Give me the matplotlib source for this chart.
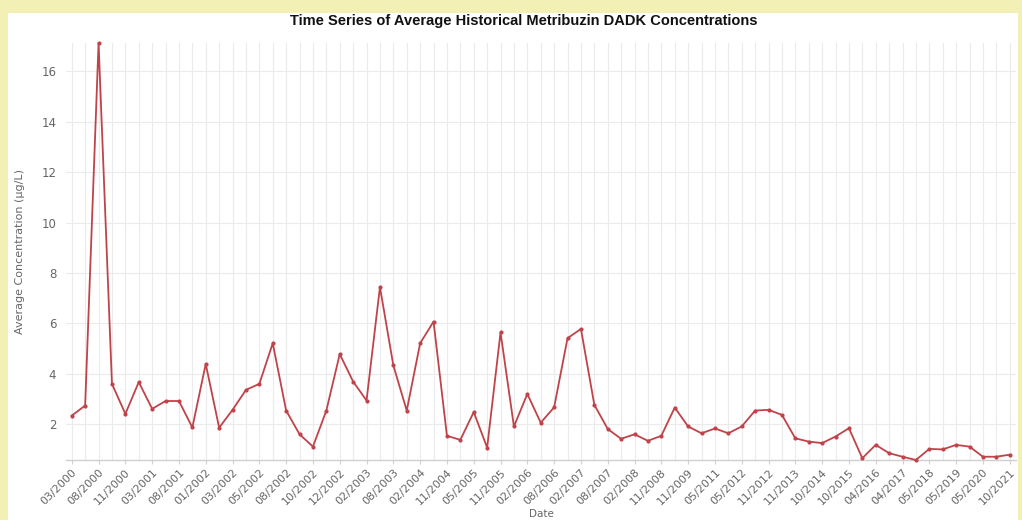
import matplotlib.pyplot as plt
import matplotlib.patches as mpatches

# ---------------------------------------------------------------------------
# Data (one point per sample date)
# ---------------------------------------------------------------------------
tick_labels = [
    '03/2000', '08/2000', '11/2000', '03/2001', '08/2001', '01/2002',
    '03/2002', '05/2002', '08/2002', '10/2002', '12/2002', '02/2003',
    '08/2003', '02/2004', '11/2004', '05/2005', '11/2005', '02/2006',
    '08/2006', '02/2007', '08/2007', '02/2008', '11/2008', '11/2009',
    '05/2011', '05/2012', '11/2012', '11/2013', '10/2014', '10/2015',
    '04/2016', '04/2017', '05/2018', '05/2019', '05/2020', '10/2021',
]

concentration = [
    2.34, 2.74, 17.12, 3.60, 2.41, 3.67, 2.61, 2.92, 2.92, 1.87,
    4.39, 1.86, 2.57, 3.36, 3.60, 5.21, 2.54, 1.60, 1.11, 2.54,
    4.78, 3.69, 2.94, 7.44, 4.33, 2.54, 5.21, 6.07, 1.54, 1.38,
    2.48, 1.07, 5.64, 1.91, 3.20, 2.06, 2.67, 5.41, 5.78, 2.77,
    1.81, 1.42, 1.60, 1.34, 1.54, 2.66, 1.91, 1.64, 1.83, 1.64,
    1.91, 2.54, 2.57, 2.37, 1.44, 1.31, 1.25, 1.51, 1.84, 0.65,
    1.18, 0.85, 0.71, 0.58, 1.02, 1.00, 1.18, 1.11, 0.71, 0.71,
    0.79,
]

LINE = '#c0434a'
GRID = '#ebebeb'
TXT = '#666666'

fig = plt.figure(figsize=(10.22, 5.2), dpi=100)
fig.patch.set_facecolor('#f3f0b6')
# white card behind the chart
fig.add_artist(mpatches.Rectangle((8 / 1022, 0), 1010 / 1022, 507 / 520,
                                  transform=fig.transFigure,
                                  facecolor='white', edgecolor='none',
                                  zorder=0))

ax = fig.add_axes([66 / 1022, 60 / 520, 950 / 1022, 417 / 520])
ax.set_facecolor('none')

x = list(range(len(concentration)))
ax.plot(x, concentration, color=LINE, lw=1.3, marker='o', ms=2.0,
        zorder=3, clip_on=False)

ax.set_xlim(-0.43, 70.47)
ax.set_ylim(min(concentration), max(concentration))

ax.set_xticks(range(0, len(concentration), 2))
ax.set_xticklabels(tick_labels, rotation=45, ha='right',
                   rotation_mode='anchor', fontsize=8, color=TXT)
ax.set_xticks(range(len(concentration)), minor=True)
ax.set_yticks(range(2, 17, 2))
ax.tick_params(axis='y', labelsize=8.5, labelcolor=TXT, length=0, pad=7)
ax.tick_params(axis='x', which='both', length=3, color='#d0d0d0', pad=2)
ax.tick_params(axis='x', which='minor', length=0)

ax.grid(True, which='both', axis='x', color=GRID, lw=0.8, zorder=0)
ax.grid(True, which='major', axis='y', color=GRID, lw=0.8, zorder=0)
ax.set_axisbelow(True)

for side in ['top', 'right', 'left']:
    ax.spines[side].set_visible(False)
ax.spines['bottom'].set_color('#d0d0d0')
ax.spines['bottom'].set_linewidth(1.0)

ax.set_ylabel('Average Concentration (µg/L)', fontsize=8, color=TXT,
              labelpad=12)

# x axis title sits at the very bottom edge, as in the reference
fig.text(541 / 1022, 1 / 520, 'Date', ha='center', va='bottom',
         fontsize=7.5, color=TXT)

fig.text(0.512, 0.96, 'Time Series of Average Historical Metribuzin DADK '
         'Concentrations', ha='center', va='center', fontsize=10.5,
         fontweight='bold', family='Liberation Sans', color='#111111')

plt.savefig('out.png', dpi=100, facecolor=fig.get_facecolor())
plt.close()
